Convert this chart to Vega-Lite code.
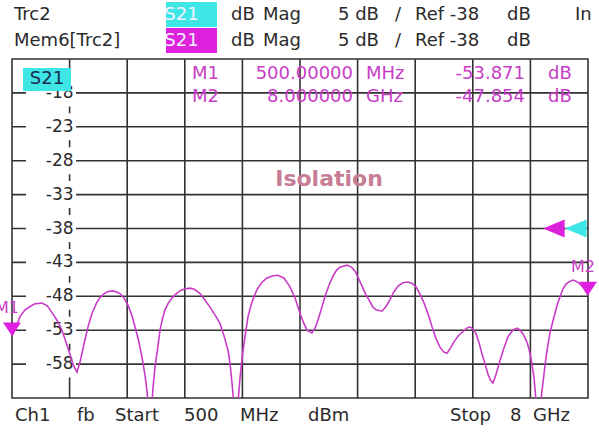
{
  "$schema": "https://vega.github.io/schema/vega-lite/v6.json",
  "width": 576,
  "height": 339,
  "autosize": {"type": "none"},
  "padding": {"left": 12, "top": 59, "right": 11, "bottom": 34},
  "background": "white",
  "config": {
    "view": {"stroke": "#333333", "strokeWidth": 1.6},
    "font": "DejaVu Sans",
    "text": {"font": "DejaVu Sans"}
  },
  "datasets": {
    "gx": [{"f": 1.25}, {"f": 2}, {"f": 2.75}, {"f": 3.5}, {"f": 4.25}, {"f": 5}, {"f": 5.75}, {"f": 6.5}, {"f": 7.25}],
    "gy": [{"db": -58}, {"db": -53}, {"db": -48}, {"db": -43}, {"db": -38}, {"db": -33}, {"db": -28}, {"db": -23}, {"db": -18}],
    "trace": [
      {"f": 0.5, "db": -53.87}, {"f": 0.55, "db": -52.6}, {"f": 0.604, "db": -51.0}, {"f": 0.67, "db": -50.0},
      {"f": 0.734, "db": -49.5}, {"f": 0.8, "db": -49.1}, {"f": 0.891, "db": -49.0}, {"f": 0.96, "db": -49.4},
      {"f": 1.021, "db": -50.4}, {"f": 1.09, "db": -51.6}, {"f": 1.151, "db": -53.0}, {"f": 1.21, "db": -55.0},
      {"f": 1.255, "db": -56.6}, {"f": 1.3, "db": -58.2}, {"f": 1.346, "db": -59.2}, {"f": 1.39, "db": -57.5},
      {"f": 1.438, "db": -55.0}, {"f": 1.49, "db": -52.5}, {"f": 1.542, "db": -50.5}, {"f": 1.6, "db": -49.0},
      {"f": 1.646, "db": -48.2}, {"f": 1.7, "db": -47.6}, {"f": 1.75, "db": -47.3}, {"f": 1.815, "db": -47.2},
      {"f": 1.87, "db": -47.4}, {"f": 1.906, "db": -47.6}, {"f": 1.96, "db": -48.3}, {"f": 2.01, "db": -49.3},
      {"f": 2.06, "db": -50.8}, {"f": 2.102, "db": -52.5}, {"f": 2.15, "db": -54.6}, {"f": 2.193, "db": -57.0},
      {"f": 2.23, "db": -59.5}, {"f": 2.258, "db": -62.0}, {"f": 2.28, "db": -65.0}, {"f": 2.297, "db": -68.0},
      {"f": 2.315, "db": -65.0}, {"f": 2.336, "db": -61.5}, {"f": 2.362, "db": -58.4}, {"f": 2.4, "db": -55.4},
      {"f": 2.427, "db": -53.0}, {"f": 2.46, "db": -51.3}, {"f": 2.492, "db": -50.0}, {"f": 2.54, "db": -48.9},
      {"f": 2.596, "db": -48.1}, {"f": 2.65, "db": -47.5}, {"f": 2.7, "db": -47.1}, {"f": 2.76, "db": -46.9},
      {"f": 2.818, "db": -46.8}, {"f": 2.88, "db": -47.0}, {"f": 2.948, "db": -47.6}, {"f": 3.01, "db": -48.5},
      {"f": 3.078, "db": -49.6}, {"f": 3.14, "db": -50.7}, {"f": 3.208, "db": -52.0}, {"f": 3.26, "db": -53.8},
      {"f": 3.313, "db": -56.0}, {"f": 3.34, "db": -58.0}, {"f": 3.365, "db": -60.8}, {"f": 3.39, "db": -64.0},
      {"f": 3.417, "db": -68.0}, {"f": 3.44, "db": -64.0}, {"f": 3.469, "db": -60.0}, {"f": 3.508, "db": -56.0},
      {"f": 3.54, "db": -53.5}, {"f": 3.573, "db": -51.0}, {"f": 3.62, "db": -49.0}, {"f": 3.69, "db": -47.0},
      {"f": 3.75, "db": -46.0}, {"f": 3.82, "db": -45.3}, {"f": 3.89, "db": -45.0}, {"f": 3.964, "db": -44.9},
      {"f": 4.04, "db": -45.3}, {"f": 4.12, "db": -46.6}, {"f": 4.19, "db": -48.4}, {"f": 4.25, "db": -50.5},
      {"f": 4.3, "db": -52.0}, {"f": 4.341, "db": -53.0}, {"f": 4.406, "db": -53.4}, {"f": 4.45, "db": -52.6},
      {"f": 4.484, "db": -51.5}, {"f": 4.53, "db": -49.8}, {"f": 4.576, "db": -48.0}, {"f": 4.63, "db": -46.3},
      {"f": 4.68, "db": -45.0}, {"f": 4.73, "db": -44.1}, {"f": 4.771, "db": -43.7}, {"f": 4.862, "db": -43.4},
      {"f": 4.92, "db": -43.7}, {"f": 4.966, "db": -44.3}, {"f": 5.01, "db": -45.3}, {"f": 5.057, "db": -46.5},
      {"f": 5.11, "db": -47.8}, {"f": 5.161, "db": -48.8}, {"f": 5.2, "db": -49.6}, {"f": 5.24, "db": -50.0},
      {"f": 5.318, "db": -50.2}, {"f": 5.37, "db": -49.5}, {"f": 5.422, "db": -48.5}, {"f": 5.47, "db": -47.4},
      {"f": 5.526, "db": -46.5}, {"f": 5.59, "db": -46.0}, {"f": 5.656, "db": -45.9}, {"f": 5.71, "db": -46.1},
      {"f": 5.76, "db": -46.6}, {"f": 5.81, "db": -47.6}, {"f": 5.865, "db": -49.0}, {"f": 5.92, "db": -50.7},
      {"f": 5.969, "db": -52.5}, {"f": 6.02, "db": -54.2}, {"f": 6.073, "db": -55.5}, {"f": 6.12, "db": -56.2},
      {"f": 6.164, "db": -56.4}, {"f": 6.21, "db": -55.6}, {"f": 6.268, "db": -54.5}, {"f": 6.32, "db": -53.7},
      {"f": 6.372, "db": -53.2}, {"f": 6.42, "db": -52.7}, {"f": 6.464, "db": -52.5}, {"f": 6.5, "db": -52.8},
      {"f": 6.542, "db": -53.5}, {"f": 6.58, "db": -54.8}, {"f": 6.62, "db": -56.5}, {"f": 6.66, "db": -58.0},
      {"f": 6.698, "db": -59.5}, {"f": 6.73, "db": -60.4}, {"f": 6.763, "db": -60.8}, {"f": 6.8, "db": -59.6},
      {"f": 6.854, "db": -57.5}, {"f": 6.9, "db": -55.8}, {"f": 6.958, "db": -54.0}, {"f": 7.02, "db": -53.0},
      {"f": 7.076, "db": -52.7}, {"f": 7.12, "db": -53.0}, {"f": 7.167, "db": -53.8}, {"f": 7.21, "db": -54.9},
      {"f": 7.245, "db": -56.4}, {"f": 7.27, "db": -58.0}, {"f": 7.297, "db": -60.0}, {"f": 7.32, "db": -63.0},
      {"f": 7.349, "db": -66.0}, {"f": 7.375, "db": -64.5}, {"f": 7.401, "db": -62.0}, {"f": 7.43, "db": -59.2},
      {"f": 7.453, "db": -57.0}, {"f": 7.48, "db": -55.0}, {"f": 7.505, "db": -53.4}, {"f": 7.54, "db": -51.8},
      {"f": 7.57, "db": -50.5}, {"f": 7.6, "db": -49.2}, {"f": 7.635, "db": -48.1}, {"f": 7.67, "db": -47.0},
      {"f": 7.714, "db": -46.2}, {"f": 7.76, "db": -45.8}, {"f": 7.805, "db": -45.6}, {"f": 7.85, "db": -45.8},
      {"f": 7.896, "db": -46.2}, {"f": 7.95, "db": -46.9}, {"f": 8.0, "db": -47.854}
    ],
    "ylab": [
      {"db": -18, "t": "-18"}, {"db": -23, "t": "-23"}, {"db": -28, "t": "-28"}, {"db": -33, "t": "-33"},
      {"db": -38, "t": "-38"}, {"db": -43, "t": "-43"}, {"db": -48, "t": "-48"}, {"db": -53, "t": "-53"},
      {"db": -58, "t": "-58"}
    ],
    "markers": [
      {"m": "M1", "f": 0.5, "db": -53.871},
      {"m": "M2", "f": 8.0, "db": -47.854}
    ],
    "refs": [
      {"trace": "Mem6", "f": 7.414, "db": -38},
      {"trace": "Trc2", "f": 7.701, "db": -38}
    ],
    "hboxes": [
      {"trace": "Trc2", "x1": 2.505, "x2": 3.169, "y1": -4.59, "y2": -8.28},
      {"trace": "Mem6", "x1": 2.505, "x2": 3.169, "y1": -8.43, "y2": -12.12}
    ],
    "notes": [
      {"k": "hdr", "t": "Trc2", "x": 0.526, "y": -6.51},
      {"k": "hdr", "t": "dB", "x": 3.352, "y": -6.51},
      {"k": "hdr", "t": "Mag", "x": 3.768, "y": -6.51},
      {"k": "hdr", "t": "5 dB", "x": 4.745, "y": -6.51},
      {"k": "hdr", "t": "/", "x": 5.487, "y": -6.51},
      {"k": "hdr", "t": "Ref -38", "x": 5.747, "y": -6.51},
      {"k": "hdr", "t": "dB", "x": 6.945, "y": -6.51},
      {"k": "hdr", "t": "In", "x": 7.831, "y": -6.51},
      {"k": "hdr", "t": "Mem6[Trc2]", "x": 0.526, "y": -10.35},
      {"k": "hdr", "t": "dB", "x": 3.352, "y": -10.35},
      {"k": "hdr", "t": "Mag", "x": 3.768, "y": -10.35},
      {"k": "hdr", "t": "5 dB", "x": 4.745, "y": -10.35},
      {"k": "hdr", "t": "/", "x": 5.487, "y": -10.35},
      {"k": "hdr", "t": "Ref -38", "x": 5.747, "y": -10.35},
      {"k": "hdr", "t": "dB", "x": 6.945, "y": -10.35},
      {"k": "hdr", "t": "Ch1", "x": 0.539, "y": -65.66},
      {"k": "hdr", "t": "fb", "x": 1.346, "y": -65.66},
      {"k": "hdr", "t": "Start", "x": 1.841, "y": -65.66},
      {"k": "hdr", "t": "500", "x": 2.74, "y": -65.66},
      {"k": "hdr", "t": "MHz", "x": 3.469, "y": -65.66},
      {"k": "hdr", "t": "dBm", "x": 4.354, "y": -65.66},
      {"k": "hdr", "t": "Stop", "x": 6.203, "y": -65.66},
      {"k": "hdr", "t": "8", "x": 6.984, "y": -65.66},
      {"k": "hdr", "t": "GHz", "x": 7.284, "y": -65.66},
      {"k": "hbox", "t": "S21", "x": 2.707, "y": -6.51},
      {"k": "hbox", "t": "S21", "x": 2.707, "y": -10.35},
      {"k": "mkl", "t": "M1", "x": 2.844, "y": -15.21},
      {"k": "mkr", "t": "500.00000", "x": 4.94, "y": -15.21},
      {"k": "mkl", "t": "MHz", "x": 5.109, "y": -15.21},
      {"k": "mkr", "t": "-53.871", "x": 7.18, "y": -15.21},
      {"k": "mkl", "t": "dB", "x": 7.479, "y": -15.21},
      {"k": "mkl", "t": "M2", "x": 2.844, "y": -18.6},
      {"k": "mkr", "t": "8.000000", "x": 4.94, "y": -18.6},
      {"k": "mkl", "t": "GHz", "x": 5.109, "y": -18.6},
      {"k": "mkr", "t": "-47.854", "x": 7.18, "y": -18.6},
      {"k": "mkl", "t": "dB", "x": 7.479, "y": -18.6},
      {"k": "iso", "t": "Isolation", "x": 4.628, "y": -30.7},
      {"k": "s21", "t": "S21", "x": 0.956, "y": -16.02}
    ]
  },
  "layer": [
    {
      "data": {"name": "gx"},
      "mark": {"type": "rule", "color": "#333333", "strokeWidth": 1.6},
      "encoding": {
        "x": {"field": "f", "type": "quantitative", "scale": {"domain": [0.5, 8], "nice": false, "zero": false}, "axis": null}
      }
    },
    {
      "data": {"name": "gy"},
      "mark": {"type": "rule", "color": "#333333", "strokeWidth": 1.6},
      "encoding": {
        "y": {"field": "db", "type": "quantitative", "scale": {"domain": [-63, -13], "nice": false, "zero": false}, "axis": null}
      }
    },
    {
      "data": {"name": "ylab"},
      "mark": {"type": "point", "shape": "M-1,-0.54L1,-0.54L1,0.54L-1,0.54Z", "filled": true, "color": "white", "opacity": 1, "size": 2500, "strokeWidth": 0},
      "encoding": {
        "x": {"datum": 1.008, "type": "quantitative", "scale": {"domain": [0.5, 8], "nice": false, "zero": false}, "axis": null},
        "y": {"field": "db", "type": "quantitative", "scale": {"domain": [-63, -13], "nice": false, "zero": false}, "axis": null}
      }
    },
    {
      "data": {"name": "ylab"},
      "mark": {"type": "text", "align": "right", "baseline": "middle", "fontSize": 17, "color": "#2a2a2a", "dx": 4},
      "encoding": {
        "x": {"datum": 1.25, "type": "quantitative", "scale": {"domain": [0.5, 8], "nice": false, "zero": false}, "axis": null},
        "y": {"field": "db", "type": "quantitative", "scale": {"domain": [-63, -13], "nice": false, "zero": false}, "axis": null},
        "text": {"field": "t"}
      }
    },
    {
      "data": {"name": "trace"},
      "mark": {"type": "line", "color": "#c83cc8", "strokeWidth": 1.6, "clip": true},
      "encoding": {
        "x": {"field": "f", "type": "quantitative", "scale": {"domain": [0.5, 8], "nice": false, "zero": false}, "axis": null},
        "y": {"field": "db", "type": "quantitative", "scale": {"domain": [-63, -13], "nice": false, "zero": false}, "axis": null}
      }
    },
    {
      "data": {"values": [{"box": "S21"}]},
      "mark": {"type": "rect", "color": "#3ee6e6"},
      "encoding": {
        "x": {"datum": 0.643, "type": "quantitative", "scale": {"domain": [0.5, 8], "nice": false, "zero": false}, "axis": null},
        "x2": {"datum": 1.268},
        "y": {"datum": -14.33, "type": "quantitative", "scale": {"domain": [-63, -13], "nice": false, "zero": false}, "axis": null},
        "y2": {"datum": -17.72}
      }
    },
    {
      "data": {"name": "hboxes"},
      "mark": {"type": "rect"},
      "encoding": {
        "x": {"field": "x1", "type": "quantitative", "scale": {"domain": [0.5, 8], "nice": false, "zero": false}, "axis": null},
        "x2": {"field": "x2"},
        "y": {"field": "y1", "type": "quantitative", "scale": {"domain": [-63, -13], "nice": false, "zero": false}, "axis": null},
        "y2": {"field": "y2"},
        "color": {"field": "trace", "type": "nominal", "scale": {"domain": ["Trc2", "Mem6"], "range": ["#3ee6e6", "#dd22dd"]}, "legend": null}
      }
    },
    {
      "data": {"name": "refs"},
      "mark": {"type": "point", "shape": "M0,0L2.4,-1L2.4,1Z", "filled": true, "opacity": 1, "size": 324, "strokeWidth": 0},
      "encoding": {
        "x": {"field": "f", "type": "quantitative", "scale": {"domain": [0.5, 8], "nice": false, "zero": false}, "axis": null},
        "y": {"field": "db", "type": "quantitative", "scale": {"domain": [-63, -13], "nice": false, "zero": false}, "axis": null},
        "color": {"field": "trace", "type": "nominal", "scale": {"domain": ["Trc2", "Mem6"], "range": ["#3ee6e6", "#dd22dd"]}, "legend": null}
      }
    },
    {
      "data": {"name": "markers"},
      "mark": {"type": "point", "shape": "M0,0L-1,-1.5L1,-1.5Z", "filled": true, "color": "#e020e0", "opacity": 1, "size": 324, "strokeWidth": 0},
      "encoding": {
        "x": {"field": "f", "type": "quantitative", "scale": {"domain": [0.5, 8], "nice": false, "zero": false}, "axis": null},
        "y": {"field": "db", "type": "quantitative", "scale": {"domain": [-63, -13], "nice": false, "zero": false}, "axis": null}
      }
    },
    {
      "data": {"name": "markers"},
      "mark": {"type": "text", "align": "center", "baseline": "middle", "fontSize": 16, "color": "#c83cc8", "dx": -5, "dy": -28},
      "encoding": {
        "x": {"field": "f", "type": "quantitative", "scale": {"domain": [0.5, 8], "nice": false, "zero": false}, "axis": null},
        "y": {"field": "db", "type": "quantitative", "scale": {"domain": [-63, -13], "nice": false, "zero": false}, "axis": null},
        "text": {"field": "m"}
      }
    },
    {
      "data": {"name": "notes"},
      "transform": [{"filter": "datum.k == 'hdr'"}],
      "mark": {"type": "text", "align": "left", "baseline": "middle", "fontSize": 18, "color": "#2a2a2a"},
      "encoding": {
        "x": {"field": "x", "type": "quantitative", "scale": {"domain": [0.5, 8], "nice": false, "zero": false}, "axis": null},
        "y": {"field": "y", "type": "quantitative", "scale": {"domain": [-63, -13], "nice": false, "zero": false}, "axis": null},
        "text": {"field": "t"}
      }
    },
    {
      "data": {"name": "notes"},
      "transform": [{"filter": "datum.k == 'hbox'"}],
      "mark": {"type": "text", "align": "center", "baseline": "middle", "fontSize": 18, "color": "#f2f2ff"},
      "encoding": {
        "x": {"field": "x", "type": "quantitative", "scale": {"domain": [0.5, 8], "nice": false, "zero": false}, "axis": null},
        "y": {"field": "y", "type": "quantitative", "scale": {"domain": [-63, -13], "nice": false, "zero": false}, "axis": null},
        "text": {"field": "t"}
      }
    },
    {
      "data": {"name": "notes"},
      "transform": [{"filter": "datum.k == 'mkl'"}],
      "mark": {"type": "text", "align": "left", "baseline": "middle", "fontSize": 18, "color": "#c83cc8"},
      "encoding": {
        "x": {"field": "x", "type": "quantitative", "scale": {"domain": [0.5, 8], "nice": false, "zero": false}, "axis": null},
        "y": {"field": "y", "type": "quantitative", "scale": {"domain": [-63, -13], "nice": false, "zero": false}, "axis": null},
        "text": {"field": "t"}
      }
    },
    {
      "data": {"name": "notes"},
      "transform": [{"filter": "datum.k == 'mkr'"}],
      "mark": {"type": "text", "align": "right", "baseline": "middle", "fontSize": 18, "color": "#c83cc8"},
      "encoding": {
        "x": {"field": "x", "type": "quantitative", "scale": {"domain": [0.5, 8], "nice": false, "zero": false}, "axis": null},
        "y": {"field": "y", "type": "quantitative", "scale": {"domain": [-63, -13], "nice": false, "zero": false}, "axis": null},
        "text": {"field": "t"}
      }
    },
    {
      "data": {"name": "notes"},
      "transform": [{"filter": "datum.k == 'iso'"}],
      "mark": {"type": "text", "align": "center", "baseline": "middle", "fontSize": 22, "fontWeight": "bold", "color": "#c87d97"},
      "encoding": {
        "x": {"field": "x", "type": "quantitative", "scale": {"domain": [0.5, 8], "nice": false, "zero": false}, "axis": null},
        "y": {"field": "y", "type": "quantitative", "scale": {"domain": [-63, -13], "nice": false, "zero": false}, "axis": null},
        "text": {"field": "t"}
      }
    },
    {
      "data": {"name": "notes"},
      "transform": [{"filter": "datum.k == 's21'"}],
      "mark": {"type": "text", "align": "center", "baseline": "middle", "fontSize": 18, "color": "#1c2a50"},
      "encoding": {
        "x": {"field": "x", "type": "quantitative", "scale": {"domain": [0.5, 8], "nice": false, "zero": false}, "axis": null},
        "y": {"field": "y", "type": "quantitative", "scale": {"domain": [-63, -13], "nice": false, "zero": false}, "axis": null},
        "text": {"field": "t"}
      }
    }
  ]
}
